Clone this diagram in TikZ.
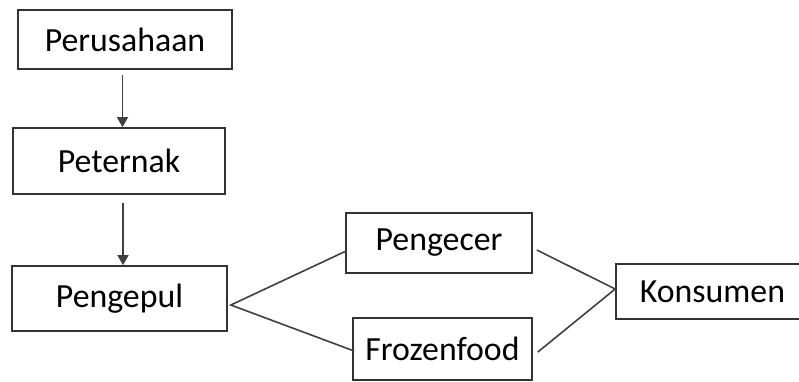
\documentclass[tikz,border=0pt]{standalone}
\usepackage{fontspec}
\setmainfont{Carlito}
\usetikzlibrary{arrows.meta}
\tikzset{
  box/.style={draw=black!80, line width=1.7pt, inner sep=0pt,
    font=\fontsize{33.8}{40}\selectfont},
  link/.style={draw=black!75, line width=1.6pt},
  arr/.style={link, -{Triangle[width=11pt,length=10pt]}}
}
\begin{document}
\begin{tikzpicture}[x=1pt, y=-1pt]
  \clip (0,0) rectangle (799,381);

  % Define nodes
  \node[box, minimum width=214pt, minimum height=59pt] (perusahaan) at (125,39.5) {Perusahaan};
  \node[box, minimum width=212pt, minimum height=66pt] (peternak) at (119,161) {Peternak};
  \node[box, minimum width=215pt, minimum height=65pt] (pengepul) at (119.5,298.5) {Pengepul};
  \node[box, minimum width=186pt, minimum height=60pt] (pengecer) at (439,243) {Pengecer};
  \node[box, minimum width=179pt, minimum height=62pt] (frozenfood) at (442.5,349) {Frozenfood};
  \node[box, minimum width=193pt, minimum height=55pt] (konsumen) at (712.5,291.5) {Konsumen};

  % Draw edges
  \draw[arr] ([shift={(-2.5,5)}]perusahaan.south) -- ([xshift=3.5]peternak.north);
  \draw[arr] ([shift={(4,8)}]peternak.south) -- ([xshift=3.5]pengepul.north);
  \draw[link] ([shift={(1,8)}]pengecer.west) -- ([shift={(3,6.5)}]pengepul.east)
    -- ([shift={(2,2)}]frozenfood.west);
  \draw[link] ([shift={(4,7)}]pengecer.east) -- ([yshift=2.5]konsumen.west)
    -- ([shift={(5,3)}]frozenfood.east);
\end{tikzpicture}
\end{document}
